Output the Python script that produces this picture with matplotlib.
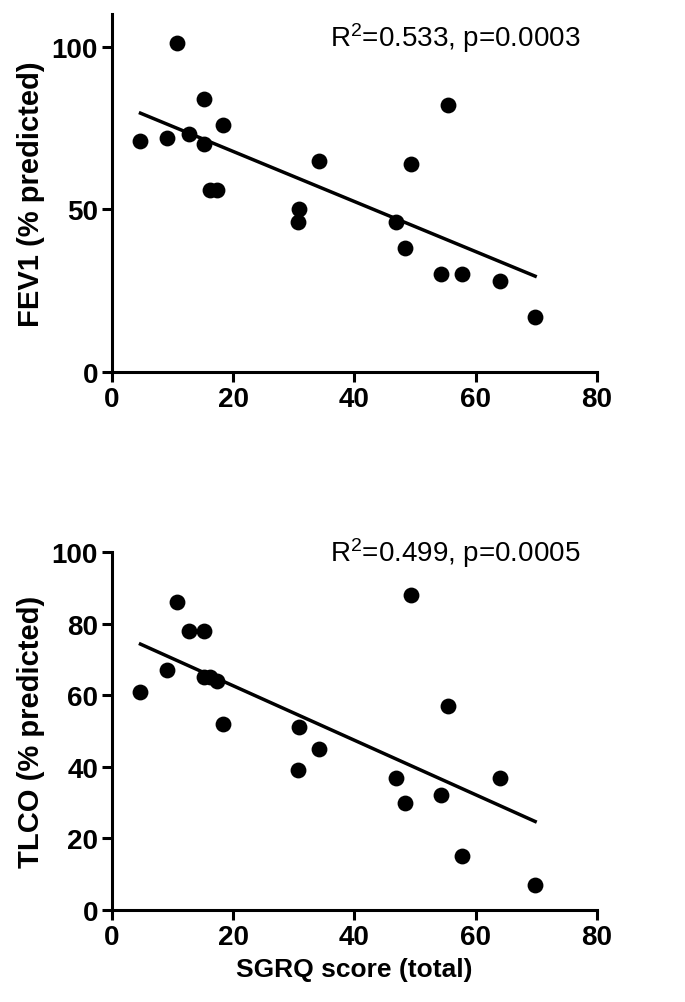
import numpy as np
import matplotlib
matplotlib.use("Agg")
import matplotlib.pyplot as plt

plt.rcParams['font.family'] = ['Liberation Sans Narrow', 'Liberation Sans', 'DejaVu Sans']

# SGRQ total score per patient (same for both panels)
sgrq = [4.7, 9.1, 10.8, 12.7, 15.2, 15.2, 16.2, 17.3, 18.3, 30.8,
        30.6, 34.1, 46.8, 48.3, 49.4, 54.2, 55.5, 57.8, 64.0, 69.8]
fev1 = [71, 72, 101, 73, 84, 70, 56, 56, 76, 50,
        46, 65, 46, 38, 64, 30, 82, 30, 28, 17]
sgrq_tlco = [4.7, 9.1, 10.8, 12.7, 15.2, 15.2, 16.2, 17.3, 18.3, 30.8,
             30.6, 34.1, 46.8, 48.3, 49.4, 54.2, 55.5, 57.8, 64.0, 69.8]
tlco = [61, 67, 86, 78, 78, 65, 65, 64, 52, 51,
        39, 45, 37, 30, 88, 32, 57, 15, 37, 7]

x_ticks = [0, 20, 40, 60, 80]
panels = [
    (sgrq, fev1, 'FEV1 (% predicted)', 'R$^2$=0.533, p=0.0003', [0, 50, 100], 110, 100.3),
    (sgrq_tlco, tlco, 'TLCO (% predicted)', 'R$^2$=0.499, p=0.0005', [0, 20, 40, 60, 80, 100], 100, 97.5),
]

plt.rcParams['mathtext.fontset'] = 'custom'
plt.rcParams['mathtext.rm'] = 'Liberation Sans'
plt.rcParams['mathtext.default'] = 'rm'

fig = plt.figure(figsize=(6.85, 10.03), dpi=100)
axes = [fig.add_axes([0.1635, 0.628, 0.708, 0.357]),
        fig.add_axes([0.1635, 0.0917, 0.708, 0.357])]

for ax, (x, y, ylab, note, yt, ytop, note_y) in zip(axes, panels):
    x = np.array(x)
    y = np.array(y)
    ax.scatter(x, y, s=130, color='black', zorder=3, linewidths=0)
    k, b = np.polyfit(x, y, 1)
    xs = np.array([x.min(), x.max()])
    ax.plot(xs, k * xs + b, color='black', lw=2.5)

    ax.set_xlim(0, 80)
    ax.set_ylim(0, ytop)
    ax.set_xticks(x_ticks)
    ax.set_yticks(yt)
    ax.spines['top'].set_visible(False)
    ax.spines['right'].set_visible(False)
    for s in ['left', 'bottom']:
        ax.spines[s].set_linewidth(2.2)
    ax.tick_params(width=2.2, length=7, labelsize=20, direction='out', pad=3)
    for lab in ax.get_xticklabels() + ax.get_yticklabels():
        lab.set_fontweight('bold')
    ax.set_ylabel(ylab, fontsize=21, fontweight='bold', family=['Liberation Sans', 'DejaVu Sans'], labelpad=5)
    ax.text(0.965, note_y, note, transform=ax.get_yaxis_transform(), ha='right', va='baseline',
            fontsize=20, family=['Liberation Sans', 'DejaVu Sans'])

axes[1].set_xlabel('SGRQ score (total)', fontsize=19, fontweight='bold',
                   family=['Liberation Sans', 'DejaVu Sans'], labelpad=5)

fig.savefig('out.png', dpi=100)
